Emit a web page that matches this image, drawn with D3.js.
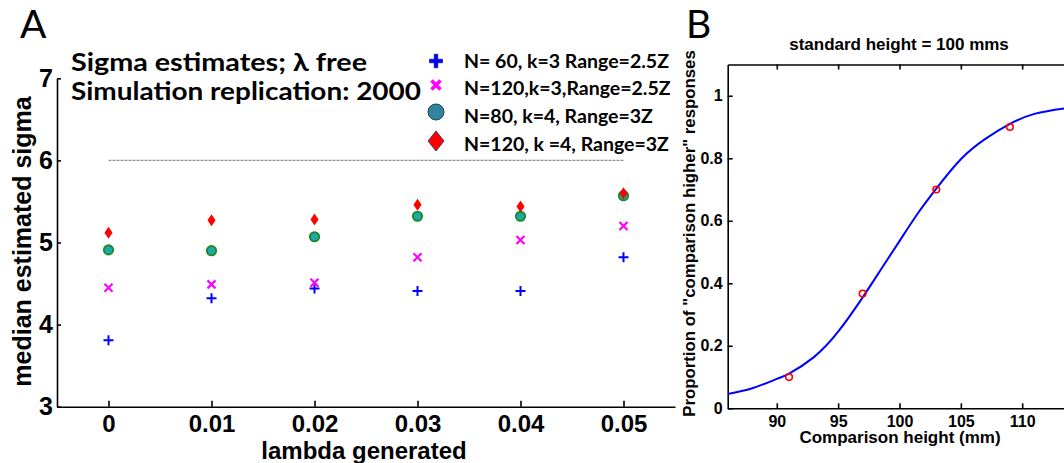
<!DOCTYPE html>
<html>
<head>
<meta charset="utf-8">
<script src="https://d3js.org/d3.v7.min.js"></script>
<style>
  body { margin: 0; background: #fff; }
  svg { display: block; }
  .tickA text { font-family: "Liberation Sans", Arial, sans-serif; font-weight: bold; font-size: 24px; fill: #000; }
  .tickB text { font-family: "Liberation Sans", Arial, sans-serif; font-weight: bold; font-size: 16px; fill: #000; }
  .domain, .tick line { stroke: #000; stroke-width: 1.6; }
</style>
</head>
<body>
<div id="chart"></div>
<script>
// panel A: median sigma estimates vs generated lambda
var lambdaVals = [0, 0.01, 0.02, 0.03, 0.04, 0.05];
var sigmaN60k3  = [3.81, 4.32, 4.44, 4.41, 4.41, 4.82];
var sigmaN120k3 = [4.45, 4.49, 4.51, 4.82, 5.03, 5.20];
var sigmaN80k4  = [4.91, 4.90, 5.07, 5.32, 5.32, 5.57];
var sigmaN120k4 = [5.12, 5.27, 5.28, 5.46, 5.44, 5.60];
var seriesLabels = ["N= 60, k=3 Range=2.5Z", "N=120,k=3,Range=2.5Z", "N=80, k=4, Range=3Z", "N=120, k =4, Range=3Z"];
var refSigma = 6;
var yTicksA = [3, 4, 5, 6, 7];
var xTicksA = [0, 0.01, 0.02, 0.03, 0.04, 0.05];

// panel B: psychometric function
var compHeights = [91, 97, 103, 109];
var propHigher  = [0.10, 0.367, 0.70, 0.90];
var fitHeights = [86, 88, 90, 91, 93, 95, 97, 98.5, 100, 101.5, 103, 105, 107, 109, 111, 113.5, 116];
var fitProp    = [0.046, 0.064, 0.094, 0.111, 0.163, 0.245, 0.355, 0.445, 0.535, 0.624, 0.703, 0.797, 0.862, 0.91, 0.942, 0.96, 0.972];
var xTicksB = [90, 95, 100, 105, 110];
var yTicksB = [0, 0.2, 0.4, 0.6, 0.8, 1];

var width = 1064, height = 463;

var svg = d3.select("#chart").append("svg")
    .attr("width", width)
    .attr("height", height);

svg.append("rect").attr("width", width).attr("height", height).attr("fill", "#fff");

//==== PANEL A ====
var xA = d3.scaleLinear().domain([-0.005, 0.055]).range([57, 675]);
var yA = d3.scaleLinear().domain([3, 7]).range([406.7, 78.3]);

svg.append("g")
    .attr("class", "tickA")
    .attr("transform", "translate(0," + yA(3) + ")")
    .call(d3.axisBottom(xA).tickValues(xTicksA).tickFormat(d3.format("~g"))
        .tickSizeInner(-6).tickSizeOuter(0).tickPadding(8));

svg.append("g")
    .attr("class", "tickA")
    .attr("transform", "translate(" + xA(-0.005) + ",0)")
    .call(d3.axisLeft(yA).tickValues(yTicksA).tickFormat(d3.format("d"))
        .tickSizeInner(-4).tickSizeOuter(0).tickPadding(4))
    .selectAll("text").style("font-size", "25px");

//reference line at sigma = 6
svg.append("line")
    .attr("x1", xA(lambdaVals[0]))
    .attr("x2", xA(lambdaVals[lambdaVals.length - 1]))
    .attr("y1", yA(refSigma))
    .attr("y2", yA(refSigma))
    .attr("stroke", "#8f8f8f")
    .attr("stroke-width", 1.2)
    .attr("stroke-dasharray", "3,1");

//markers
var plusPath = "M-5,0H5M0,-5V5";
var crossPath = "M-4,-4L4,4M-4,4L4,-4";
var diamondPath = "M0,-6L4,0L0,6L-4,0Z";

var gA = svg.append("g").attr("class", "points");

gA.selectAll(".p60").data(sigmaN60k3).enter().append("path")
    .attr("d", plusPath)
    .attr("transform", function(d, i) { return "translate(" + xA(lambdaVals[i]) + "," + yA(d) + ")"; })
    .attr("stroke", "#0000ff").attr("stroke-width", 2).attr("fill", "none");

gA.selectAll(".p120").data(sigmaN120k3).enter().append("path")
    .attr("d", crossPath)
    .attr("transform", function(d, i) { return "translate(" + xA(lambdaVals[i]) + "," + yA(d) + ")"; })
    .attr("stroke", "#ff00ff").attr("stroke-width", 2.2).attr("fill", "none");

gA.selectAll(".c80").data(sigmaN80k4).enter().append("circle")
    .attr("cx", function(d, i) { return xA(lambdaVals[i]); })
    .attr("cy", function(d) { return yA(d); })
    .attr("r", 4.6)
    .attr("fill", "#1fa8a8").attr("stroke", "#1b8a2c").attr("stroke-width", 2);

gA.selectAll(".d120").data(sigmaN120k4).enter().append("path")
    .attr("d", diamondPath)
    .attr("transform", function(d, i) { return "translate(" + xA(lambdaVals[i]) + "," + yA(d) + ")"; })
    .attr("fill", "#ff0000");

//axis titles
svg.append("text")
    .attr("transform", "translate(31,241.5) rotate(-90)")
    .attr("text-anchor", "middle")
    .style("font-family", "'Liberation Sans', Arial, sans-serif")
    .style("font-weight", "bold").style("font-size", "25px")
    .text("median estimated sigma");

svg.append("text")
    .attr("x", 364).attr("y", 459)
    .attr("text-anchor", "middle")
    .style("font-family", "'Liberation Sans', Arial, sans-serif")
    .style("font-weight", "bold").style("font-size", "24px")
    .text("lambda generated");

//panel letter and title
svg.append("text")
    .attr("x", 20).attr("y", 38)
    .style("font-family", "Lato, 'Open Sans', sans-serif")
    .style("font-size", "39px")
    .text("A");

svg.append("text")
    .attr("x", 71).attr("y", 70.7)
    .attr("textLength", 296).attr("lengthAdjust", "spacingAndGlyphs")
    .style("font-family", "Lato, 'Open Sans', sans-serif")
    .style("font-weight", "bold").style("font-size", "24px")
    .text("Sigma estimates;  λ free");

svg.append("text")
    .attr("x", 71).attr("y", 100)
    .attr("textLength", 350).attr("lengthAdjust", "spacingAndGlyphs")
    .style("font-family", "Lato, 'Open Sans', sans-serif")
    .style("font-weight", "bold").style("font-size", "24px")
    .text("Simulation replication: 2000");

//legend
var legendY = [61, 85, 112, 141];
var legendTextY = [68.3, 95, 123.3, 150.7];
var legendX = 436;
var legend = svg.append("g").attr("class", "legend");

legend.append("path")
    .attr("d", "M-6.5,-1.8H-1.8V-6.8H1.8V-1.8H6.5V1.8H1.8V6.8H-1.8V1.8H-6.5Z")
    .attr("transform", "translate(" + legendX + "," + legendY[0] + ")")
    .attr("fill", "#0000ff").attr("stroke", "#000080").attr("stroke-width", 0.6);

legend.append("path")
    .attr("d", "M-4.5,-4.5L4.5,4.5M-4.5,4.5L4.5,-4.5")
    .attr("transform", "translate(" + legendX + "," + legendY[1] + ")")
    .attr("stroke", "#ff00ff").attr("stroke-width", 3.6).attr("fill", "none");

legend.append("circle")
    .attr("cx", legendX).attr("cy", legendY[2]).attr("r", 8)
    .attr("fill", "#31849b").attr("stroke", "#1f3f55").attr("stroke-width", 1);

legend.append("path")
    .attr("d", "M0,-10L8,0L0,10L-8,0Z")
    .attr("transform", "translate(" + legendX + "," + legendY[3] + ")")
    .attr("fill", "#ff0000").attr("stroke", "#4a3a6a").attr("stroke-width", 1);

legend.selectAll("text.lbl").data(seriesLabels).enter().append("text")
    .attr("x", 464)
    .attr("y", function(d, i) { return legendTextY[i]; })
    .style("font-family", "Lato, 'Open Sans', sans-serif")
    .style("font-weight", "bold").style("font-size", "19.5px")
    .text(function(d) { return d; });

//==== PANEL B ====
var xB = d3.scaleLinear().domain([86, 116]).range([727.7, 727.7 + 30 * 12.27]);
var yB = d3.scaleLinear().domain([0, 1.1]).range([408.3, 64.5]);

svg.append("defs").append("clipPath").attr("id", "clipB")
    .append("rect")
    .attr("x", xB(86)).attr("y", yB(1.1))
    .attr("width", xB(116) - xB(86)).attr("height", yB(0) - yB(1.1));

svg.append("g")
    .attr("class", "tickB")
    .attr("transform", "translate(0," + yB(0) + ")")
    .call(d3.axisBottom(xB).tickValues(xTicksB).tickFormat(d3.format("d"))
        .tickSizeInner(-5).tickSizeOuter(0).tickPadding(7));

svg.append("g")
    .attr("class", "tickB")
    .attr("transform", "translate(0," + yB(1.1) + ")")
    .call(d3.axisTop(xB).tickValues(xTicksB).tickFormat("")
        .tickSizeInner(-5).tickSizeOuter(0));

svg.append("g")
    .attr("class", "tickB")
    .attr("transform", "translate(" + xB(86) + ",0)")
    .call(d3.axisLeft(yB).tickValues(yTicksB).tickFormat(d3.format("~g"))
        .tickSizeInner(-5).tickSizeOuter(0).tickPadding(5));

var fitLine = d3.line()
    .x(function(d, i) { return xB(fitHeights[i]); })
    .y(function(d) { return yB(d); })
    .curve(d3.curveNatural);

svg.append("path")
    .datum(fitProp)
    .attr("clip-path", "url(#clipB)")
    .attr("d", fitLine)
    .attr("fill", "none")
    .attr("stroke", "#0000ff")
    .attr("stroke-width", 2);

svg.append("g").selectAll("circle").data(propHigher).enter().append("circle")
    .attr("cx", function(d, i) { return xB(compHeights[i]); })
    .attr("cy", function(d) { return yB(d); })
    .attr("r", 3.3)
    .attr("fill", "none").attr("stroke", "#ff0000").attr("stroke-width", 1.6);

svg.append("text")
    .attr("x", 899).attr("y", 50)
    .attr("text-anchor", "middle")
    .style("font-family", "'Liberation Sans', Arial, sans-serif")
    .style("font-weight", "bold").style("font-size", "17px")
    .text("standard height = 100 mms");

svg.append("text")
    .attr("x", 900).attr("y", 443)
    .attr("text-anchor", "middle")
    .style("font-family", "'Liberation Sans', Arial, sans-serif")
    .style("font-weight", "bold").style("font-size", "17px")
    .text("Comparison height (mm)");

svg.append("text")
    .attr("transform", "translate(695,233.5) rotate(-90)")
    .attr("text-anchor", "middle")
    .style("font-family", "'Liberation Sans', Arial, sans-serif")
    .style("font-weight", "bold").style("font-size", "16.8px")
    .text("Proportion of \"comparison higher\" responses");

svg.append("text")
    .attr("x", 686).attr("y", 38)
    .style("font-family", "Lato, 'Open Sans', sans-serif")
    .style("font-size", "39px")
    .text("B");
</script>
</body>
</html>
